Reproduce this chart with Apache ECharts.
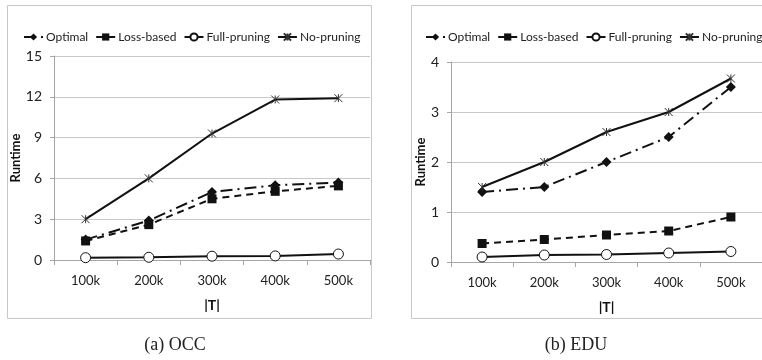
<!DOCTYPE html>
<html><head><meta charset="utf-8">
<script src="https://cdn.jsdelivr.net/npm/echarts@6/dist/echarts.min.js"></script>
<style>html,body{margin:0;padding:0;background:#fff}#c{width:762px;height:360px}</style>
</head><body><div id="c"></div>
<script>
const categories = ['100k','200k','300k','400k','500k'];
const seriesNames = ['Optimal','Loss-based','Full-pruning','No-pruning'];
// OCC panel
const occOptimal = [1.5, 2.9, 5.0, 5.5, 5.7];
const occLoss = [1.4, 2.6, 4.5, 5.05, 5.45];
const occFull = [0.17, 0.2, 0.28, 0.3, 0.44];
const occNo = [3.0, 6.0, 9.3, 11.8, 11.9];
// EDU panel
const eduOptimal = [1.4, 1.5, 2.0, 2.5, 3.5];
const eduLoss = [0.37, 0.45, 0.54, 0.62, 0.9];
const eduFull = [0.1, 0.14, 0.15, 0.18, 0.21];
const eduNo = [1.5, 2.0, 2.6, 3.0, 3.67];
const occTicks = [0, 3, 6, 9, 12, 15];
const eduTicks = [0, 1, 2, 3, 4];

const FONT = 'Lato';
const star = 'path://M0,0L10,10M10,0L0,10M5,0L5,10';

function mk(name, data, idx) {
  const base = {name, type:'line', data, xAxisIndex:idx, yAxisIndex:idx, animation:false,
    lineStyle:{color:'#111', width:2}, itemStyle:{color:'#111'}, symbolSize:8};
  if (name === 'Optimal') { base.symbol='diamond'; base.symbolSize=10; base.lineStyle.type=[12,5,2,5]; }
  if (name === 'Loss-based') { base.symbol='rect'; base.symbolSize=9; base.lineStyle.type=[7,5]; }
  if (name === 'Full-pruning') { base.symbol='circle'; base.symbolSize=10; base.itemStyle={color:'#fff', borderColor:'#111', borderWidth:1}; }
  if (name === 'No-pruning') { base.symbol=star; base.symbolSize=8; base.itemStyle={color:'#fff', borderColor:'#333', borderWidth:1}; }
  return base;
}

function xa(idx){
  return {type:'category', gridIndex:idx, data:categories, boundaryGap:true,
    name:'|T|', nameLocation:'middle', nameGap:38,
    nameTextStyle:{fontFamily:FONT, fontWeight:'bold', fontSize:14, color:'#111'},
    axisLine:{lineStyle:{color:'#a6a6a6'}}, axisTick:{show:true, alignWithLabel:false, length:5, lineStyle:{color:'#a6a6a6'}},
    axisLabel:{fontFamily:FONT, fontSize:13, color:'#222', margin:14}};
}
function ya(idx, ticks){
  return {type:'value', gridIndex:idx, min:ticks[0], max:ticks[ticks.length-1], interval:ticks[1]-ticks[0],
    name:'Runtime', nameLocation:'middle', nameGap:idx===0?29:22,
    nameTextStyle:{fontFamily:FONT, fontWeight:'bold', fontSize:13, color:'#111'},
    axisLine:{show:true, lineStyle:{color:'#a6a6a6'}}, axisTick:{show:true, length:4, lineStyle:{color:'#a6a6a6'}},
    splitLine:{lineStyle:{color:'#c8c8c8'}},
    axisLabel:{fontFamily:FONT, fontSize:14, color:'#222', margin:12}};
}

const legendBase = {data:seriesNames, top:26, width:500, itemWidth:19, itemHeight:9, itemGap:7,
  textStyle:{fontFamily:FONT, fontSize:12, color:'#222', padding:[0,0,0,-2]}};

const chart = echarts.init(document.getElementById('c'), null, {renderer:'canvas'});
chart.setOption({
  backgroundColor:'#fff',
  animation:false,
  grid:[{left:54, top:56, width:316, height:204},{left:451, top:62, width:320, height:200}],
  legend:[
    Object.assign({left:18}, legendBase),
    Object.assign({left:420}, legendBase)
  ],
  xAxis:[xa(0), xa(1)],
  yAxis:[ya(0, occTicks), ya(1, eduTicks)],
  series:[
    mk('Optimal', occOptimal, 0), mk('Loss-based', occLoss, 0), mk('Full-pruning', occFull, 0), mk('No-pruning', occNo, 0),
    mk('Optimal', eduOptimal, 1), mk('Loss-based', eduLoss, 1), mk('Full-pruning', eduFull, 1), mk('No-pruning', eduNo, 1)
  ],
  graphic:[
    {type:'rect', shape:{x:7.5, y:5.5, width:364, height:313}, style:{fill:'none', stroke:'#c8c8c8', lineWidth:1}, silent:true, z:-1},
    {type:'rect', shape:{x:411.5, y:5.5, width:360, height:313}, style:{fill:'none', stroke:'#c8c8c8', lineWidth:1}, silent:true, z:-1},
    {type:'text', style:{text:'(a) OCC', x:175, y:345, textAlign:'center', textVerticalAlign:'middle', font:'18px "Liberation Serif", serif', fill:'#222'}},
    {type:'text', style:{text:'(b) EDU', x:576, y:345, textAlign:'center', textVerticalAlign:'middle', font:'18px "Liberation Serif", serif', fill:'#222'}}
  ]
});
</script></body></html>
